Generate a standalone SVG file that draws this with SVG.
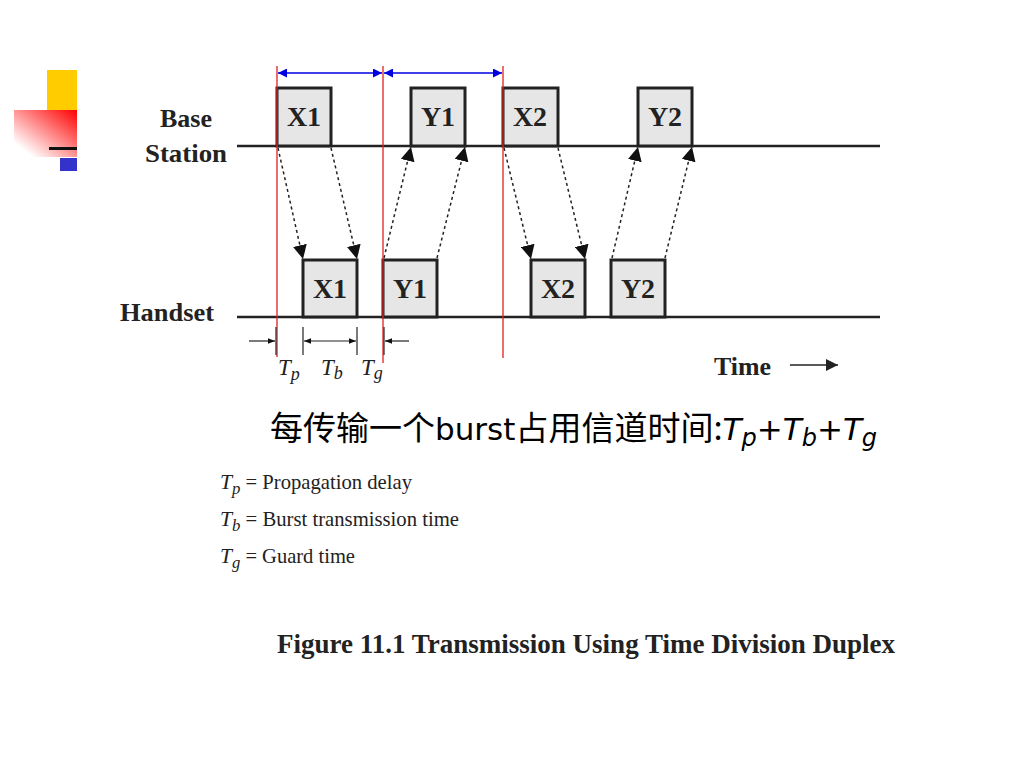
<svg xmlns="http://www.w3.org/2000/svg" width="1024" height="768" viewBox="0 0 1024 768">
<defs>
<linearGradient id="rg" x1="0" y1="1" x2="1" y2="0">
<stop offset="0.15" stop-color="#ffffff"/>
<stop offset="1" stop-color="#ff0000"/>
</linearGradient>
<marker id="ah" viewBox="0 0 10 10" refX="10" refY="5" markerWidth="14" markerHeight="14" markerUnits="userSpaceOnUse" orient="auto">
<path d="M0,0 L10,5 L0,10 z" fill="#111"/>
</marker>
<marker id="bh" viewBox="0 0 10 10" refX="10" refY="5" markerWidth="9" markerHeight="9" markerUnits="userSpaceOnUse" orient="auto-start-reverse">
<path d="M0,0 L10,5 L0,10 z" fill="#0000e0"/>
</marker>
<marker id="sh" viewBox="0 0 10 10" refX="10" refY="5" markerWidth="7" markerHeight="7" markerUnits="userSpaceOnUse" orient="auto-start-reverse">
<path d="M0,1 L10,5 L0,9 z" fill="#111"/>
</marker>
<marker id="th" viewBox="0 0 10 10" refX="10" refY="5" markerWidth="12" markerHeight="12" markerUnits="userSpaceOnUse" orient="auto">
<path d="M0,0 L10,5 L0,10 z" fill="#222"/>
</marker>
</defs>
<style>
.box{fill:#e6e6e6;stroke:#222;stroke-width:3}
.bl{font-family:"Liberation Serif",serif;font-weight:bold;font-size:28px;fill:#222;text-anchor:middle}
.lab{font-family:"Liberation Serif",serif;font-weight:bold;font-size:26px;fill:#222}
.axis{stroke:#222;stroke-width:2.5}
.red{stroke:#e02020;stroke-width:1.3}
.dash{stroke:#222;stroke-width:1.5;stroke-dasharray:3,3;fill:none}
.it{font-family:"Liberation Serif",serif;font-style:italic;font-size:23px;fill:#222}
.leg{font-family:"Liberation Serif",serif;font-size:21px;fill:#222}
.tick{stroke:#222;stroke-width:1.2}
</style>
<rect width="1024" height="768" fill="#fff"/>
<g id="decor">
<rect x="47" y="70" width="30" height="40" fill="#ffcc00"/>
<rect x="14" y="110" width="63" height="47" fill="url(#rg)"/>
<rect x="49" y="147" width="28" height="3" fill="#111"/>
<rect x="60" y="158" width="17" height="13" fill="#3333cc"/>
</g>
<g id="labels">
<text class="lab" x="160" y="127" textLength="52" lengthAdjust="spacingAndGlyphs">Base</text>
<text class="lab" x="145" y="162" textLength="82" lengthAdjust="spacingAndGlyphs">Station</text>
<text class="lab" x="120" y="321" textLength="94" lengthAdjust="spacingAndGlyphs">Handset</text>
<text class="lab" x="714" y="375" textLength="57" lengthAdjust="spacingAndGlyphs">Time</text>
</g>
<g id="axes">
<line class="axis" x1="237" y1="146" x2="880" y2="146"/>
<line class="axis" x1="237" y1="317" x2="880" y2="317"/>
</g>
<g id="bs-boxes">
<g id="bsX1"><rect class="box" x="277" y="88" width="54" height="58"/><text class="bl" x="304" y="126">X1</text></g>
<g id="bsY1"><rect class="box" x="411" y="88" width="54" height="58"/><text class="bl" x="438" y="126">Y1</text></g>
<g id="bsX2"><rect class="box" x="503" y="88" width="55" height="58"/><text class="bl" x="530" y="126">X2</text></g>
<g id="bsY2"><rect class="box" x="638" y="88" width="54" height="58"/><text class="bl" x="665" y="126">Y2</text></g>
</g>
<g id="hs-boxes">
<g id="hsX1"><rect class="box" x="303" y="260" width="54" height="57"/><text class="bl" x="330" y="298">X1</text></g>
<g id="hsY1"><rect class="box" x="383" y="260" width="54" height="57"/><text class="bl" x="410" y="298">Y1</text></g>
<g id="hsX2"><rect class="box" x="531" y="260" width="54" height="57"/><text class="bl" x="558" y="298">X2</text></g>
<g id="hsY2"><rect class="box" x="611" y="260" width="54" height="57"/><text class="bl" x="638" y="298">Y2</text></g>
</g>
<g id="connectors">
<line class="dash" x1="278" y1="148" x2="303" y2="259" marker-end="url(#ah)"/>
<line class="dash" x1="331" y1="148" x2="357" y2="259" marker-end="url(#ah)"/>
<line class="dash" x1="384" y1="258" x2="411" y2="147" marker-end="url(#ah)"/>
<line class="dash" x1="437" y1="258" x2="465" y2="147" marker-end="url(#ah)"/>
<line class="dash" x1="504" y1="148" x2="531" y2="259" marker-end="url(#ah)"/>
<line class="dash" x1="558" y1="148" x2="585" y2="259" marker-end="url(#ah)"/>
<line class="dash" x1="612" y1="258" x2="638" y2="147" marker-end="url(#ah)"/>
<line class="dash" x1="665" y1="258" x2="692" y2="147" marker-end="url(#ah)"/>
<line x1="790" y1="365" x2="838" y2="365" stroke="#222" stroke-width="1.5" marker-end="url(#th)"/>
</g>
<g id="redlines">
<line class="red" x1="277" y1="66" x2="277" y2="357"/>
<line class="red" x1="383" y1="66" x2="383" y2="363"/>
<line class="red" x1="503" y1="66" x2="503" y2="358"/>
</g>
<g id="blue">
<line x1="278" y1="73" x2="382" y2="73" stroke="#0000e0" stroke-width="1.5" marker-start="url(#bh)" marker-end="url(#bh)"/>
<line x1="384" y1="73" x2="502" y2="73" stroke="#0000e0" stroke-width="1.5" marker-start="url(#bh)" marker-end="url(#bh)"/>
</g>
<g id="timing">
<line class="tick" x1="276" y1="327" x2="276" y2="355"/>
<line class="tick" x1="303" y1="327" x2="303" y2="355"/>
<line class="tick" x1="357" y1="327" x2="357" y2="355"/>
<line class="tick" x1="384" y1="327" x2="384" y2="355"/>
<line class="tick" x1="249" y1="341" x2="275" y2="341" marker-end="url(#sh)"/>
<line class="tick" x1="304" y1="341" x2="356" y2="341" marker-start="url(#sh)" marker-end="url(#sh)"/>
<line class="tick" x1="409" y1="341" x2="385" y2="341" marker-end="url(#sh)"/>
<text class="it" x="278" y="375">T<tspan font-size="18" dy="5">p</tspan></text>
<text class="it" x="321" y="375">T<tspan font-size="18" dy="4">b</tspan></text>
<text class="it" x="361" y="375">T<tspan font-size="18" dy="4">g</tspan></text>
</g>
<g id="summary">
<text x="270" y="440" font-family="'Noto Sans CJK SC', sans-serif" font-size="33" fill="#000">每传输一个<tspan font-family="'DejaVu Sans', sans-serif" font-size="31">burst</tspan>占用信道时间:<tspan font-family="'DejaVu Sans', sans-serif" font-style="italic" font-size="31">T<tspan font-size="24" dy="6">p</tspan><tspan dy="-6">+T</tspan><tspan font-size="24" dy="6">b</tspan><tspan dy="-6">+T</tspan><tspan font-size="24" dy="6">g</tspan></tspan></text>
</g>
<g id="legend">
<text class="leg" x="220" y="489" textLength="192" lengthAdjust="spacingAndGlyphs"><tspan font-style="italic" font-size="22">T</tspan><tspan font-style="italic" font-size="17" dy="5">p</tspan><tspan dy="-5"> = Propagation delay</tspan></text>
<text class="leg" x="220" y="526" textLength="239" lengthAdjust="spacingAndGlyphs"><tspan font-style="italic" font-size="22">T</tspan><tspan font-style="italic" font-size="17" dy="5">b</tspan><tspan dy="-5"> = Burst transmission time</tspan></text>
<text class="leg" x="220" y="563" textLength="135" lengthAdjust="spacingAndGlyphs"><tspan font-style="italic" font-size="22">T</tspan><tspan font-style="italic" font-size="17" dy="5">g</tspan><tspan dy="-5"> = Guard time</tspan></text>
</g>
<g id="caption">
<text x="277" y="653" font-family="'Liberation Serif',serif" font-weight="bold" font-size="27" fill="#222" textLength="618" lengthAdjust="spacingAndGlyphs">Figure 11.1  Transmission Using Time Division Duplex</text>
</g>
</svg>
